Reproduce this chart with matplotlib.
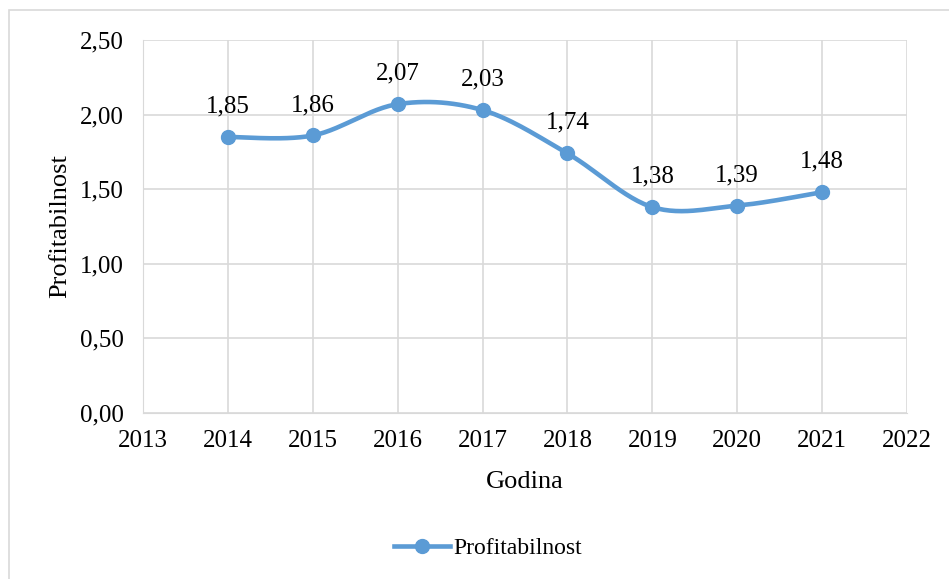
import numpy as np
import matplotlib.pyplot as plt
from matplotlib.patches import Rectangle
from matplotlib.lines import Line2D

years = [2014, 2015, 2016, 2017, 2018, 2019, 2020, 2021]
profit = [1.85, 1.86, 2.07, 2.03, 1.74, 1.38, 1.39, 1.48]
labels = ["1,85", "1,86", "2,07", "2,03", "1,74", "1,38", "1,39", "1,48"]

plt.rcParams['font.family'] = ['Liberation Serif', 'DejaVu Serif']
blue = "#5B9BD5"
grid_c = "#D9D9D9"


def smooth(xs, ys, n=30):
    # Excel-like smoothed line: cubic bezier through the points
    pts = np.column_stack([xs, ys]).astype(float)
    ext = np.vstack([pts[0], pts, pts[-1]])
    out = []
    t = np.linspace(0, 1, n)[:, None]
    for i in range(len(pts) - 1):
        p0, p1, p2, p3 = ext[i], ext[i + 1], ext[i + 2], ext[i + 3]
        c1 = p1 + (p2 - p0) / 6
        c2 = p2 - (p3 - p1) / 6
        seg = ((1 - t) ** 3) * p1 + 3 * ((1 - t) ** 2) * t * c1 + 3 * (1 - t) * t ** 2 * c2 + t ** 3 * p2
        out.append(seg if i == 0 else seg[1:])
    seg = np.vstack(out)
    return seg[:, 0], seg[:, 1]


fig = plt.figure(figsize=(9.49, 5.79), dpi=100)
fig.patches.append(Rectangle((9 / 949, -0.1), 1.2, 1 - 10 / 579 + 0.1, transform=fig.transFigure,
                             fill=False, edgecolor=grid_c, linewidth=1.2))
ax = fig.add_axes([143 / 949, 1 - 413 / 579, (907 - 143) / 949, (413 - 40) / 579])

sx, sy = smooth(years, profit)
ax.plot(sx, sy, color=blue, linewidth=3.3, solid_capstyle='round', zorder=3)
ax.plot(years, profit, 'o', color=blue, markersize=10, zorder=4)
for x, y, lab in zip(years, profit, labels):
    ax.annotate(lab, (x, y), xytext=(0, 14), textcoords='offset points',
                ha='center', va='bottom', fontsize=18, color='#000000')

ax.set_xlim(2013, 2022)
ax.set_ylim(0, 2.5)
ax.set_xticks(range(2013, 2023))
ax.set_yticks([0, 0.5, 1.0, 1.5, 2.0, 2.5])
ax.set_yticklabels(["0,00", "0,50", "1,00", "1,50", "2,00", "2,50"])
ax.tick_params(length=0, labelsize=18)
ax.tick_params(axis='x', pad=12)
ax.tick_params(axis='y', pad=14)
ax.grid(True, color=grid_c, linewidth=1.2)
ax.set_axisbelow(True)
for s in ax.spines.values():
    s.set_visible(False)
ax.spines['bottom'].set_visible(True)
ax.spines['bottom'].set_color(grid_c)
ax.spines['left'].set_visible(True)
ax.spines['left'].set_color(grid_c)

ax.set_xlabel("Godina", fontsize=19, labelpad=14)
ax.set_ylabel("Profitabilnost", fontsize=19, labelpad=6)

handle = Line2D([], [], color=blue, linewidth=3.3, marker='o', markersize=10)
fig.legend([handle], ["Profitabilnost"], loc='center', bbox_to_anchor=(488 / 949, 1 - 548 / 579),
           frameon=False, fontsize=17, handlelength=2.4, handletextpad=0.15)

fig.savefig("out.png", dpi=100)
